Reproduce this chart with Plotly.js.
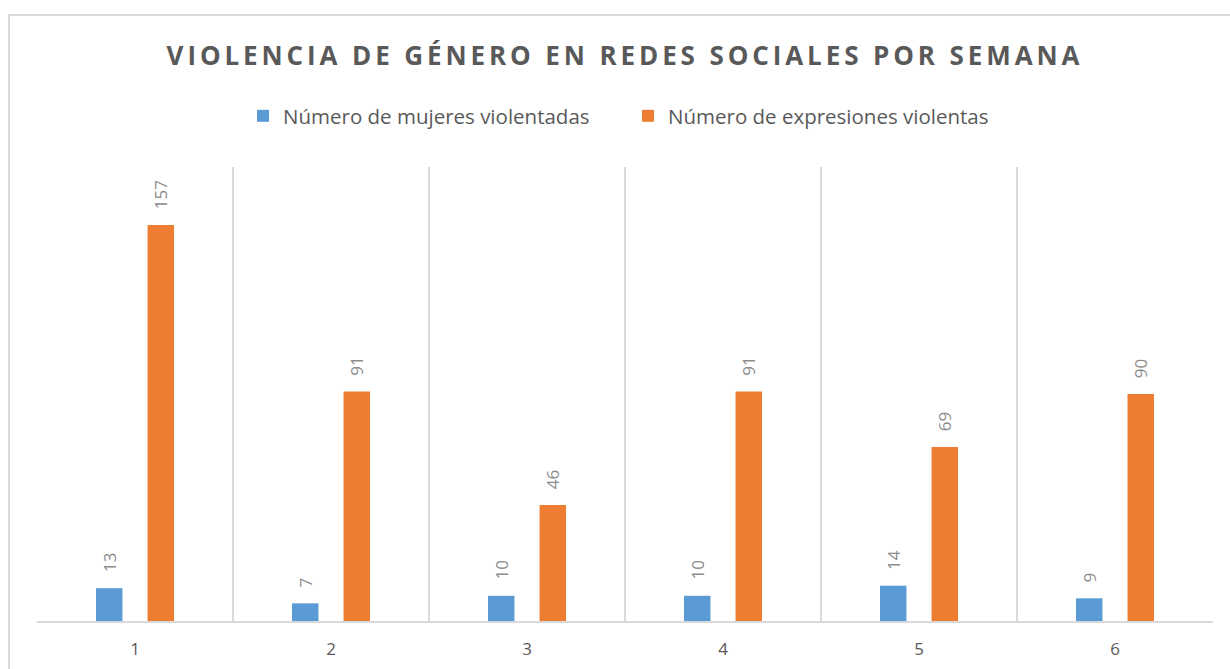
<!DOCTYPE html>
<html>
<head>
<meta charset="utf-8">
<script src="https://cdn.plot.ly/plotly-3.0.1.min.js"></script>
<style>
  html, body { margin: 0; padding: 0; background: #fff; }
  #chart { width: 1230px; height: 669px; }
  #frame { position: absolute; left: 8px; top: 14px; width: 1220px; height: 660px; border: 2px solid #d9d9d9; pointer-events: none; }
  .gtitle { letter-spacing: 3.9px; }
</style>
</head>
<body>
<div id="chart"></div>
<div id="frame"></div>
<script>
var weeks = [1, 2, 3, 4, 5, 6];
var tickLabels = ["1", "2", "3", "4", "5", "6"];
var mujeres = [13, 7, 10, 10, 14, 9];
var expresiones = [157, 91, 46, 91, 69, 90];
var seriesNames = ["Número de mujeres violentadas", "Número de expresiones violentas"];
var chartTitle = "VIOLENCIA DE GÉNERO EN REDES SOCIALES POR SEMANA";

var BLUE = "#5b9bd5", ORANGE = "#ed7d31";
var GRAY = "#595959", LABEL = "#8c8c8c", LINE = "#d9d9d9";
var FONT = "Open Sans, sans-serif";

var traces = [
  { type: "bar", x: weeks, y: mujeres, name: seriesNames[0], marker: { color: BLUE }, hoverinfo: "x+y" },
  { type: "bar", x: weeks, y: expresiones, name: seriesNames[1], marker: { color: ORANGE }, hoverinfo: "x+y" }
];

var bargap = 0.474, bargroupgap = 0.487;
var slot = (1 - bargap) / 2;
var offs = [-slot / 2, slot / 2];

var annotations = [];
[mujeres, expresiones].forEach(function (vals, s) {
  vals.forEach(function (v, i) {
    annotations.push({
      x: weeks[i] + offs[s], y: v, xref: "x", yref: "y",
      text: String(v), showarrow: false, textangle: -90,
      xanchor: "center", yanchor: "bottom", yshift: 14,
      font: { family: FONT, size: 17, color: LABEL }
    });
  });
});

var layout = {
  width: 1230, height: 669,
  paper_bgcolor: "#fff", plot_bgcolor: "#fff",
  margin: { l: 37, r: 17, t: 167, b: 48 },
  font: { family: FONT, color: GRAY },
  title: {
    text: "<b>" + chartTitle + "</b>",
    x: 0.5, xref: "paper", xanchor: "center",
    y: 1 - 56 / 669, yref: "container", yanchor: "middle",
    font: { family: FONT, size: 26, color: GRAY }
  },
  showlegend: true,
  legend: {
    orientation: "h", x: 0.5 + 3 / 1176, xref: "paper", xanchor: "center",
    y: 1 - 116 / 669, yref: "container", yanchor: "middle",
    font: { family: FONT, size: 20.5, color: GRAY },
    itemwidth: 30, traceorder: "normal", entrywidth: 340
  },
  barmode: "group", bargap: bargap, bargroupgap: bargroupgap,
  xaxis: {
    type: "linear", range: [0.5, 6.5],
    tickmode: "array", tickvals: weeks, ticktext: tickLabels,
    showgrid: false, zeroline: false,
    showline: true, linecolor: LINE, linewidth: 2,
    ticks: "", ticklen: 0, ticklabelstandoff: 12,
    tickfont: { family: FONT, size: 17, color: GRAY },
    minor: { tick0: 0.5, dtick: 1, showgrid: true, gridcolor: LINE, gridwidth: 2, ticks: "" },
    fixedrange: true
  },
  yaxis: {
    range: [0, 180], showgrid: false, zeroline: false, showline: false,
    showticklabels: false, ticks: "", fixedrange: true
  },
  annotations: annotations
};

Plotly.newPlot("chart", traces, layout, { displayModeBar: false, staticPlot: true });
</script>
</body>
</html>
